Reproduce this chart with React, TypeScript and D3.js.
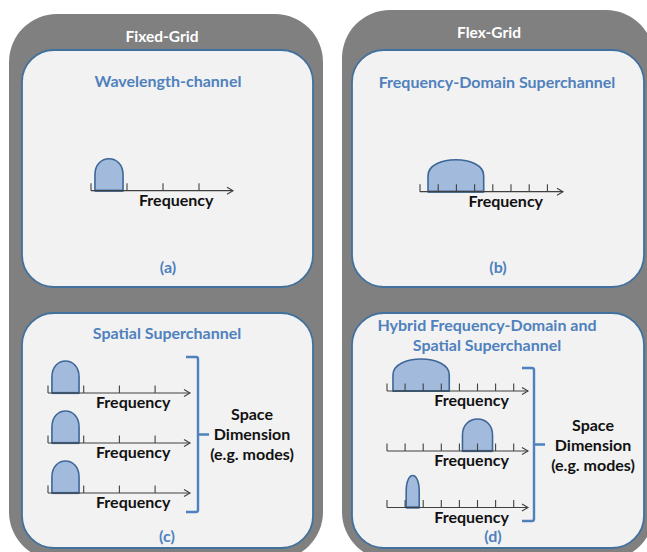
import React from "react";
import * as d3 from "d3";

// ---------- data ----------
const gridTitles = ["Fixed-Grid", "Flex-Grid"];
const boxTitles = [
  ["Wavelength-channel"],
  ["Frequency-Domain Superchannel"],
  ["Spatial Superchannel"],
  ["Hybrid Frequency-Domain and", "Spatial Superchannel"],
];
const boxLabels = ["(a)", "(b)", "(c)", "(d)"];
const axisLabel = "Frequency";
const spaceLabel = ["Space", "Dimension", "(e.g. modes)"];
// ticks per axis (slots on the frequency grid)
const tickCounts = [4, 8, 4, 8];
// pulses per row, in grid-slot units [start, end]
const pulsesA = [[[0.11, 0.89]]];
const pulsesB = [[[0.44, 3.5]]];
const pulsesC = [[[0.11, 0.87]], [[0.11, 0.87]], [[0.11, 0.87]]];
const pulsesD = [[[0.33, 3.44]], [[4.17, 5.83]], [[1.06, 1.78]]];
const boxPulses = [pulsesA, pulsesB, pulsesC, pulsesD];

// ---------- layout ----------
const W = 647;
const H = 552;
const GRAY = "#808080";
const BOX_FILL = "#f2f2f2";
const BOX_STROKE = "#41719c";
const BLUE = "#4f81bd";
const PULSE_FILL = "#a2badb";
const PULSE_STROKE = "#3d6799";
const AXIS = "#404040";
const FONT = "Lato, 'Open Sans', sans-serif";
const FS = 16;

const grayPanels = [
  { x: 9, y: 14, w: 314, h: 546 },
  { x: 342, y: 10, w: 312, h: 550 },
];
const boxes = [
  { x: 22, y: 50, w: 291, h: 237 },
  { x: 352, y: 50, w: 292, h: 237 },
  { x: 22, y: 313, w: 291, h: 235 },
  { x: 352, y: 313, w: 292, h: 235 },
];
// axis geometry per box: start x, end x (arrow), row ys
const axisGeom = [
  { x0: 91, x1: 233, step: 36, rows: [190.7] },
  { x0: 420, x1: 563, step: 18.2, rows: [191.7] },
  { x0: 48, x1: 190, step: 35.7, rows: [393, 443, 493] },
  { x0: 387, x1: 528, step: 18.1, rows: [391, 451, 507.5] },
];
const titleY = [[87], [88], [339], [331, 351]];
const titleX = [168, 497, 167, 487];
const labelY = 273;
const labelY2 = 542;
const labelX = [168, 498, 167, 493];
const brackets = [
  null,
  null,
  { x: 198, y0: 357, y1: 512, x2: 186, tip: 209 },
  { x: 534, y0: 368, y1: 521, x2: 522, tip: 545 },
];
const spaceX = [0, 0, 252, 593];
const spaceY = [0, 0, 420, 431];

const PULSE_H = 32;

function pulsePath(xa: number, xb: number, base: number, top: number) {
  const ys = base - (base - top) * 0.5;
  const c = (top - 0.25 * ys) / 0.75;
  const p = d3.path();
  p.moveTo(xa, base);
  p.lineTo(xa, ys);
  p.bezierCurveTo(xa, c, xb, c, xb, ys);
  p.lineTo(xb, base);
  p.closePath();
  return p.toString();
}

function Axis({ bi }: { bi: number }) {
  const g = axisGeom[bi];
  const n = tickCounts[bi];
  const scale = d3
    .scaleLinear()
    .domain([0, n - 1])
    .range([g.x0, g.x0 + g.step * (n - 1)]);
  const ticks = d3.range(n);
  const rows = boxPulses[bi];
  const labelCx = g.x0 + (g.x1 - g.x0) * 0.6;
  return (
    <g>
      {g.rows.map((y, ri) => (
        <g key={ri}>
          {rows[ri].map((pl, pi) => (
            <g key={pi}>
              <path
                d={pulsePath(scale(pl[0]), scale(pl[1]), y, y - PULSE_H)}
                fill={PULSE_FILL}
                stroke={PULSE_STROKE}
                strokeWidth={1.6}
              />
              <line
                x1={scale(pl[0])}
                x2={scale(pl[1])}
                y1={y}
                y2={y}
                stroke={PULSE_STROKE}
                strokeWidth={2.2}
              />
            </g>
          ))}
          <line x1={g.x0} x2={g.x1} y1={y} y2={y} stroke={AXIS} strokeWidth={1.2} />
          <path
            d={`M${g.x1 - 6},${y - 3.5} L${g.x1},${y} L${g.x1 - 6},${y + 3.5}`}
            fill="none"
            stroke={AXIS}
            strokeWidth={1.1}
          />
          {ticks.map((t) => (
            <line
              key={t}
              x1={scale(t)}
              x2={scale(t)}
              y1={y}
              y2={y - 7.5}
              stroke={AXIS}
              strokeWidth={1.1}
            />
          ))}
          <text
            x={labelCx}
            y={y + 15}
            textAnchor="middle"
            fontFamily={FONT}
            fontWeight="bold"
            fontSize={FS}
            fill="#111"
          >
            {axisLabel}
          </text>
        </g>
      ))}
    </g>
  );
}

export default function App() {
  return (
    <svg
      width={W}
      height={H}
      viewBox={`0 0 ${W} ${H}`}
      style={{ position: "absolute", left: 0, top: 0, background: "#fff" }}
    >
      {grayPanels.map((p, i) => (
        <rect key={i} x={p.x} y={p.y} width={p.w} height={p.h} rx={48} fill={GRAY} />
      ))}
      {gridTitles.map((t, i) => (
        <text
          key={t}
          x={i === 0 ? 162 : 489}
          y={i === 0 ? 42 : 38}
          textAnchor="middle"
          fontFamily={FONT}
          fontWeight="bold"
          fontSize={15.5}
          fill="#fff"
        >
          {t}
        </text>
      ))}
      {boxes.map((b, i) => (
        <g key={i}>
          <rect
            x={b.x}
            y={b.y}
            width={b.w}
            height={b.h}
            rx={32}
            fill={BOX_FILL}
            stroke={BOX_STROKE}
            strokeWidth={1.8}
          />
          {boxTitles[i].map((line, li) => (
            <text
              key={li}
              x={titleX[i]}
              y={titleY[i][li]}
              textAnchor="middle"
              fontFamily={FONT}
              fontWeight="bold"
              fontSize={FS}
              fill={BLUE}
            >
              {line}
            </text>
          ))}
          <text
            x={labelX[i]}
            y={i < 2 ? labelY : labelY2}
            textAnchor="middle"
            fontFamily={FONT}
            fontWeight="bold"
            fontSize={FS}
            fill={BLUE}
          >
            {boxLabels[i]}
          </text>
          <Axis bi={i} />
          {brackets[i] && (
            <g>
              <path
                d={(() => {
                  const br = brackets[i]!;
                  const mid = (br.y0 + br.y1) / 2;
                  return `M${br.x2},${br.y0} L${br.x - 2},${br.y0} Q${br.x},${br.y0} ${br.x},${br.y0 + 2} L${br.x},${br.y1 - 2} Q${br.x},${br.y1} ${br.x - 2},${br.y1} L${br.x2},${br.y1} M${br.x},${mid} L${br.tip},${mid}`;
                })()}
                fill="none"
                stroke={BLUE}
                strokeWidth={2.4}
              />
              {spaceLabel.map((s, si) => (
                <text
                  key={si}
                  x={spaceX[i]}
                  y={spaceY[i] + si * 20}
                  textAnchor="middle"
                  fontFamily={FONT}
                  fontWeight="bold"
                  fontSize={FS}
                  fill="#111"
                >
                  {s}
                </text>
              ))}
            </g>
          )}
        </g>
      ))}
    </svg>
  );
}
